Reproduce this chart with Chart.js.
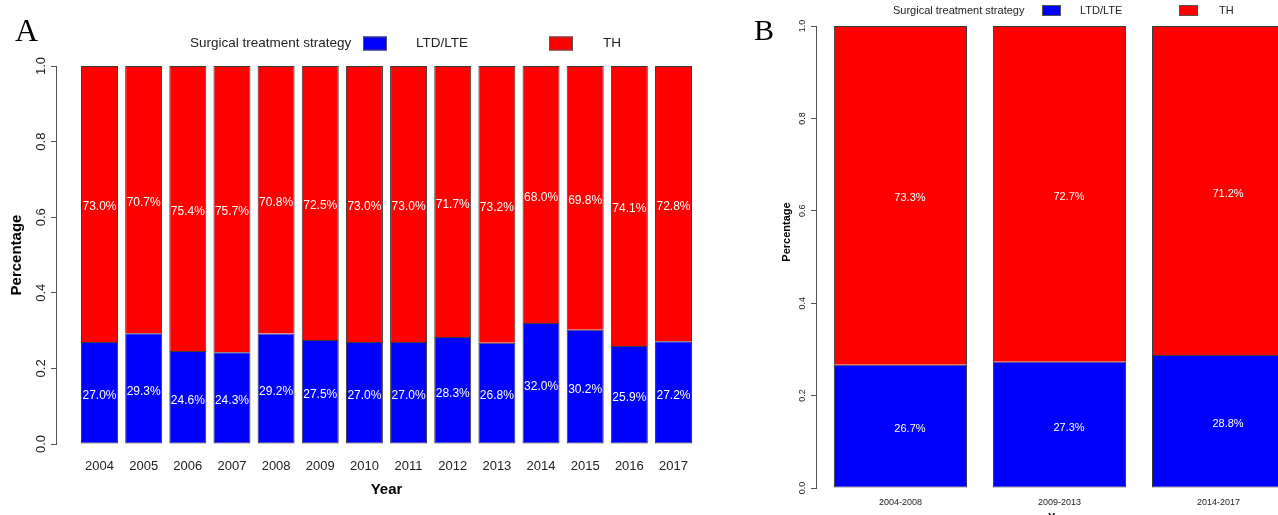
<!DOCTYPE html>
<html>
<head>
<meta charset="utf-8">
<script src="https://cdn.jsdelivr.net/npm/chart.js@4.4.0/dist/chart.umd.min.js"></script>
<style>
  body { margin: 0; width: 1278px; height: 515px; overflow: hidden; background: #fff; position: relative; }
  .panel { position: absolute; top: 0; }
  #boxA { left: 0; }
  #boxB { left: 744px; }
  .tag { position: absolute; line-height: 1; color: #000; font-family: "Liberation Serif", "Times New Roman", serif; }
</style>
</head>
<body>
<div class="panel" id="boxA"><canvas id="chartA" width="740" height="515"></canvas></div>
<div class="panel" id="boxB"><canvas id="chartB" width="560" height="530"></canvas></div>
<div class="tag" style="left:15px; top:14px; font-size:32px;">A</div>
<div class="tag" style="left:754px; top:15px; font-size:30px;">B</div>
<script>
// share of each strategy per year / period, in percent
const yearsA = ['2004', '2005', '2006', '2007', '2008', '2009', '2010', '2011', '2012', '2013', '2014', '2015', '2016', '2017'];
const ltdA = [27.0, 29.3, 24.6, 24.3, 29.2, 27.5, 27.0, 27.0, 28.3, 26.8, 32.0, 30.2, 25.9, 27.2];
const thA = [73.0, 70.7, 75.4, 75.7, 70.8, 72.5, 73.0, 73.0, 71.7, 73.2, 68.0, 69.8, 74.1, 72.8];

const periodsB = ['2004-2008', '2009-2013', '2014-2017'];
const ltdB = [26.7, 27.3, 28.8];
const thB = [73.3, 72.7, 71.2];

const yTicks = [0, 0.2, 0.4, 0.6, 0.8, 1.0];
const seriesNames = ['LTD/LTE', 'TH'];
const legendTitle = 'Surgical treatment strategy';

const FONT = '"Liberation Sans", Arial, sans-serif';
Chart.defaults.font.family = FONT;

function points(vals) {
    return vals.map((v, i) => ({ x: i, y: v / 100 }));
}

// legend in one row: title, then a box + name for each dataset
const legendRow = {
    id: 'legendRow',
    afterDraw(chart, args, o) {
        const ctx = chart.ctx;
        ctx.save();
        ctx.font = o.size + 'px ' + FONT;
        ctx.textBaseline = 'middle';
        ctx.fillStyle = '#222';
        ctx.fillText(legendTitle, o.titleX, o.y);
        chart.data.datasets.forEach((ds, i) => {
            ctx.fillStyle = ds.backgroundColor;
            ctx.fillRect(o.boxX[i], o.y - o.boxH / 2, o.boxW, o.boxH);
            ctx.strokeStyle = '#555';
            ctx.lineWidth = 1;
            ctx.strokeRect(o.boxX[i] + 0.5, o.y - o.boxH / 2 + 0.5, o.boxW - 1, o.boxH - 1);
            ctx.fillStyle = '#222';
            ctx.fillText(ds.label, o.textX[i], o.y);
        });
        ctx.restore();
    }
};

// percentage written in the middle of every segment
const shareLabels = {
    id: 'shareLabels',
    afterDatasetsDraw(chart, args, o) {
        const ctx = chart.ctx;
        ctx.save();
        ctx.font = o.size + 'px ' + FONT;
        ctx.fillStyle = '#fff';
        ctx.textAlign = 'center';
        ctx.textBaseline = 'middle';
        chart.data.datasets.forEach((ds, d) => {
            chart.getDatasetMeta(d).data.forEach((bar, i) => {
                ctx.fillText(ds.shares[i].toFixed(1) + '%', bar.x + o.dx, (bar.y + bar.base) / 2 + o.dy);
            });
        });
        ctx.restore();
    }
};

// y title placed freely (panel B)
const sideTitle = {
    id: 'sideTitle',
    afterDraw(chart, args, o) {
        if (!o.text) return;
        const ctx = chart.ctx;
        ctx.save();
        ctx.translate(o.x, o.y);
        ctx.rotate(-Math.PI / 2);
        ctx.font = 'bold ' + o.size + 'px ' + FONT;
        ctx.fillStyle = '#000';
        ctx.textAlign = 'center';
        ctx.textBaseline = 'middle';
        ctx.fillText(o.text, 0, 0);
        ctx.restore();
    }
};

function buildChart(id, cats, ltd, th, st) {
    return new Chart(document.getElementById(id), {
        type: 'bar',
        data: {
            datasets: [{
                label: seriesNames[0],
                data: points(ltd),
                shares: ltd,
                backgroundColor: '#0000ff',
                borderColor: '#3a3a3a',
                borderWidth: 1,
                borderSkipped: false,
                barPercentage: 0.837,
                categoryPercentage: 1
            }, {
                label: seriesNames[1],
                data: points(th),
                shares: th,
                backgroundColor: '#ff0000',
                borderColor: '#3a3a3a',
                borderWidth: 1,
                borderSkipped: 'start',
                barPercentage: 0.837,
                categoryPercentage: 1
            }]
        },
        plugins: [legendRow, shareLabels, sideTitle],
        options: {
            responsive: false,
            animation: false,
            layout: { padding: st.pad },
            plugins: {
                legend: { display: false },
                tooltip: { enabled: false },
                legendRow: st.legend,
                shareLabels: st.labels,
                sideTitle: st.side || {}
            },
            scales: {
                x: {
                    type: 'linear',
                    stacked: true,
                    offset: false,
                    min: -st.edge,
                    max: cats.length - 1 + st.edge,
                    afterBuildTicks: a => { a.ticks = cats.map((c, i) => ({ value: i })); },
                    afterFit: s => { s.height = st.xh; },
                    grid: { display: false, drawTicks: false, offset: false },
                    border: { display: false },
                    ticks: {
                        autoSkip: false,
                        maxRotation: 0,
                        padding: st.xpad,
                        color: '#222',
                        font: { size: st.tick },
                        callback: v => cats[v]
                    },
                    title: {
                        display: true,
                        text: 'Year',
                        color: '#000',
                        font: { size: st.title, weight: 'bold' },
                        padding: { top: 0, bottom: st.xtp }
                    }
                },
                y: {
                    stacked: true,
                    min: 0,
                    max: 1,
                    afterBuildTicks: a => { a.ticks = yTicks.map(v => ({ value: v })); },
                    afterFit: s => { s.width = st.yw; },
                    grid: { drawOnChartArea: false, drawTicks: true, tickLength: 5, color: '#555' },
                    border: { display: true, color: '#555' },
                    ticks: {
                        minRotation: 90,
                        maxRotation: 90,
                        crossAlign: 'center',
                        padding: st.ypad,
                        color: '#222',
                        font: { size: st.tick },
                        callback: v => v.toFixed(1)
                    },
                    title: {
                        display: !st.side,
                        text: 'Percentage',
                        color: '#000',
                        font: { size: st.title, weight: 'bold' },
                        padding: { top: 8, bottom: 0 }
                    }
                }
            }
        }
    });
}

buildChart('chartA', yearsA, ltdA, thA, {
    pad: { top: 66, right: 23, left: 0, bottom: 0 },
    edge: 0.985, xh: 71, yw: 56,
    tick: 13, title: 15, xpad: 15, xtp: 16, ypad: 1,
    legend: { size: 13.5, y: 43.5, titleX: 190, boxX: [363, 549], textX: [416, 603], boxW: 24, boxH: 14 },
    labels: { size: 12, dx: 0, dy: 3 }
});

buildChart('chartB', periodsB, ltdB, thB, {
    pad: { top: 26, right: 1, left: 0, bottom: 0 },
    edge: 0.531, xh: 42, yw: 72,
    tick: 9, title: 11, xpad: 9, xtp: 5.4, ypad: 2,
    legend: { size: 11, y: 10.5, titleX: 149, boxX: [298, 435], textX: [336, 475], boxW: 19, boxH: 11 },
    labels: { size: 11, dx: 9.5, dy: 3 },
    side: { text: 'Percentage', x: 43, y: 232, size: 11 }
});
</script>
</body>
</html>
